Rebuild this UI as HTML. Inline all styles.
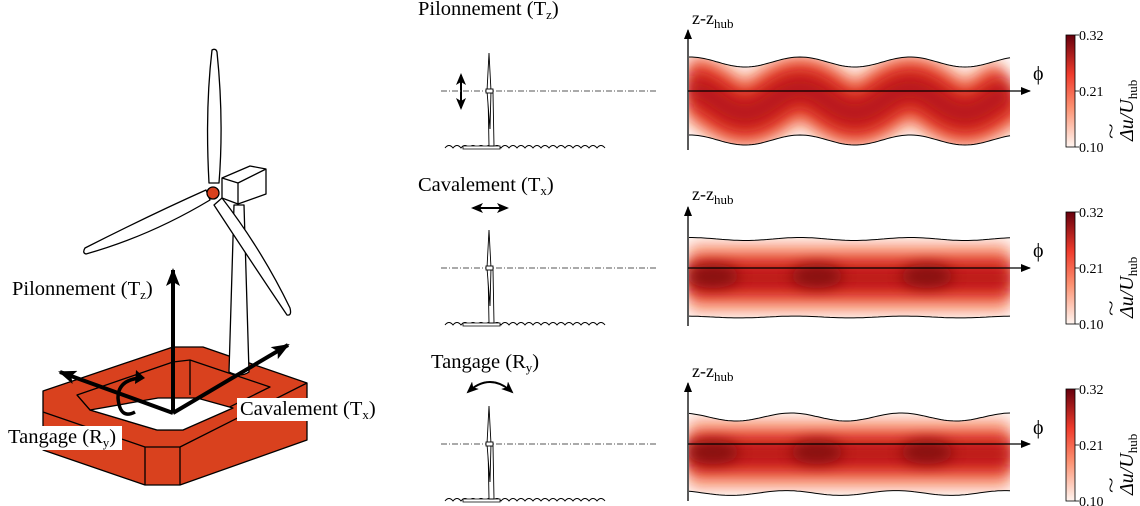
<!DOCTYPE html>
<html><head><meta charset="utf-8"><style>
html,body{margin:0;padding:0;background:#fff;width:1140px;height:506px;overflow:hidden}
svg text{font-family:"Liberation Serif",serif}
</style></head><body>
<svg id="s" width="1140" height="506" viewBox="0 0 1140 506" xmlns="http://www.w3.org/2000/svg">
<defs>
<marker id="ah" markerWidth="10" markerHeight="8" refX="9" refY="4" orient="auto" markerUnits="userSpaceOnUse"><path d="M0,0 L10,4 L0,8 Z" fill="#000"/></marker>
<marker id="ahb" markerWidth="18" markerHeight="14" refX="16" refY="7" orient="auto" markerUnits="userSpaceOnUse"><path d="M0,0 L18,7 L0,14 L4,7 Z" fill="#000"/></marker>
<marker id="ahs" markerWidth="12" markerHeight="10" refX="10" refY="5" orient="auto-start-reverse" markerUnits="userSpaceOnUse"><path d="M0,0 L12,5 L0,10 L3,5 Z" fill="#000"/></marker>
<linearGradient id="cb" x1="0" y1="1" x2="0" y2="0"><stop offset="0" stop-color="#fff5f0"/><stop offset="0.35" stop-color="#fc9272"/><stop offset="0.65" stop-color="#ef3b2c"/><stop offset="1" stop-color="#67000d"/></linearGradient>
<filter id="bl" filterUnits="userSpaceOnUse" x="600" y="0" width="540" height="506"><feGaussianBlur stdDeviation="8"/></filter>
<filter id="bl2" filterUnits="userSpaceOnUse" x="600" y="0" width="540" height="506"><feGaussianBlur stdDeviation="7"/></filter>
<clipPath id="c1"><path id="cp1"/></clipPath>
<clipPath id="c2"><path id="cp2"/></clipPath>
<clipPath id="c3"><path id="cp3"/></clipPath>
</defs>

<!-- Big turbine -->
<g stroke="#000" stroke-width="1.3" stroke-linejoin="round">
  <!-- platform -->
  <path d="M43,391 L173,347 L203,347 L307,383 L307,440 L180,485 L145,485 L43,450 Z" fill="#d9411e"/>
  <path d="M43,412 L145,447 L180,447 L307,383 M145,447 L145,485 M180,447 L180,485" fill="none"/>
  <path d="M77,395 L173,362 L190,360 L270,387 L183,430 L157,430 L90,410 Z" fill="#d9411e"/>
  <path d="M90,410 L157,430 L183,430 L233,408 L197,398 L158,398 Z" fill="#fff"/>
  <path d="M190,360 L190,395 M173,362 L173,398 M77,395 L90,410" fill="none"/>
  <!-- tower -->
  <path d="M234,205 L244,205 L249,372 Q240,378 229,372 Z" fill="#fff"/>
  <path d="M222,178 L250,166 L266,169 L266,194 L238,204 L222,198 Z" fill="#fff"/>
  <path d="M222,178 L238,183 L266,169 M238,183 L238,204" fill="none"/>
  <path d="M209,183 Q205,110 212,50 Q216,48 217,52 Q224,120 219,183 Z" fill="#fff"/>
  <path d="M206,190 Q150,215 85,248 Q82,253 86,254 Q150,236 210,200 Z" fill="#fff"/>
  <path d="M214,205 Q250,260 287,315 Q292,316 290,308 Q262,250 222,198 Z" fill="#fff"/>
  <circle cx="213" cy="193" r="6" fill="#d9411e"/>
</g>
<g stroke="#000" stroke-width="4" fill="none">
  <line x1="173" y1="413" x2="173" y2="270" marker-end="url(#ahb)"/>
  <line x1="173" y1="413" x2="60" y2="372" marker-end="url(#ahb)"/>
  <line x1="173" y1="413" x2="288" y2="345" marker-end="url(#ahb)"/>
  <path d="M140,378 Q118,380 118,398 Q120,420 135,412" stroke-width="3.5"/>
  <path d="M136,370 L145,378 L135,384 Z" fill="#000" stroke="none"/>
</g>
<rect x="237" y="398" width="142" height="23" fill="#fff"/>
<rect x="4" y="426" width="118" height="24" fill="#fff"/>
<text x="12" y="295" font-size="20.5">Pilonnement (T<tspan font-size="13" dy="4">z</tspan><tspan dy="-4">)</tspan></text>
<text x="240" y="415" font-size="20.5">Cavalement (T<tspan font-size="13" dy="4">x</tspan><tspan dy="-4">)</tspan></text>
<text x="8" y="443" font-size="20.5">Tangage (R<tspan font-size="13" dy="4">y</tspan><tspan dy="-4">)</tspan></text>

<text x="418" y="15" font-size="20.5">Pilonnement (T<tspan font-size="13" dy="4">z</tspan><tspan dy="-4">)</tspan></text>
<text x="418" y="191" font-size="20.5">Cavalement (T<tspan font-size="13" dy="4">x</tspan><tspan dy="-4">)</tspan></text>
<text x="431" y="368" font-size="20.5">Tangage (R<tspan font-size="13" dy="4">y</tspan><tspan dy="-4">)</tspan></text>
<g stroke="#000" stroke-width="2" fill="none">
  <line x1="461" y1="90" x2="461" y2="75" marker-end="url(#ahs)"/>
  <line x1="461" y1="90" x2="461" y2="108" marker-end="url(#ahs)"/>
  <line x1="490" y1="208" x2="473" y2="208" marker-end="url(#ahs)"/>
  <line x1="490" y1="208" x2="507" y2="208" marker-end="url(#ahs)"/>
  <path d="M468,392 Q490,372 512,392" marker-start="url(#ahs)" marker-end="url(#ahs)"/>
</g>
<g id="small"></g>
<g id="plots"></g>
<g font-size="18">
<text x="692" y="24">z-z<tspan font-size="13" dy="4">hub</tspan></text>
<text x="692" y="200">z-z<tspan font-size="13" dy="4">hub</tspan></text>
<text x="692" y="377">z-z<tspan font-size="13" dy="4">hub</tspan></text>
<text x="1033" y="80" font-family="DejaVu Sans" font-size="20">ϕ</text>
<text x="1033" y="257" font-family="DejaVu Sans" font-size="20">ϕ</text>
<text x="1033" y="434" font-family="DejaVu Sans" font-size="20">ϕ</text>
</g>
<g id="cbars"></g>
</svg>
<script>
var NS="http://www.w3.org/2000/svg";
function el(p,t,a,txt){var e=document.createElementNS(NS,t);for(var k in a)e.setAttribute(k,a[k]);if(txt)e.textContent=txt;p.appendChild(e);return e;}
var s=document.getElementById('small');
[91,268,444].forEach(function(hy){
  var wy=hy+57;
  var d="M445,"+wy;for(var x=445;x<598;x+=8){d+=" Q"+(x+4)+","+(wy-5)+" "+(x+8)+","+wy;}
  el(s,'path',{d:d,stroke:'#000','stroke-width':1,fill:'none'});
  el(s,'line',{x1:441,y1:hy,x2:658,y2:hy,stroke:'#555','stroke-width':0.9,'stroke-dasharray':'6,2,1,2'});
  el(s,'path',{d:'M463,'+(wy-2)+' L500,'+(wy-2)+' L500,'+(wy+1)+' L463,'+(wy+1)+'Z',fill:'#fff',stroke:'#000','stroke-width':0.8});
  el(s,'path',{d:'M488,'+(hy+2)+' L493,'+(hy+2)+' L494,'+(wy-2)+' L489,'+(wy-2)+'Z',fill:'#fff',stroke:'#000','stroke-width':0.9});
  el(s,'path',{d:'M487,'+hy+' L489,'+(hy-38)+' L491,'+hy+' L490,'+(hy+38)+'Z',fill:'#fff',stroke:'#000','stroke-width':0.9});
  el(s,'rect',{x:486,y:hy-2,width:7,height:4,fill:'#fff',stroke:'#000','stroke-width':0.9});
});
var P=[{c:91,top:-29,bot:49,amp:5,ph:0,inph:true,spots:false,ax0:150,ax1:30,cw:1},
       {c:268,top:-29,bot:49,amp:1.5,ph:0,inph:false,spots:true,ax0:326,ax1:207,cw:0.8},
       {c:444,top:-27,bot:49,amp:4,ph:0.5,inph:false,spots:true,ax0:501,ax1:383,cw:0.8}];
var g=document.getElementById('plots');
P.forEach(function(p,i){
  var x0=689,x1=1010,per=110;
  function off(x,s){return p.amp*Math.cos(2*Math.PI*(x-690)/per + p.ph + s);}
  function yb(x){return p.c+p.bot-(p.inph?off(x,0):off(x,0.3)*0.6);}
  var top="",cen="",bp="";
  for(var x=x0;x<=x1;x+=3){
    var yt=p.c+p.top-off(x,0);
    top+=(x==x0?"M":"L")+x+","+yt.toFixed(1)+" ";
    cen+=(x==x0?"M":"L")+x+","+(p.c+10-(p.inph?2.5*off(x,0):0)).toFixed(1)+" ";
    bp+=(x==x0?"M":"L")+x+","+yb(x).toFixed(1)+" ";
  }
  var band=top;
  for(var x=x1;x>=x0;x-=3){band+="L"+x+","+yb(x).toFixed(1)+" ";}
  band+="Z";
  document.getElementById('cp'+(i+1)).setAttribute('d',band);
  var gg=el(g,'g',{'clip-path':'url(#c'+(i+1)+')'});
  el(gg,'rect',{x:x0,y:p.c-50,width:x1-x0,height:110,fill:'#fff'});
  el(gg,'path',{d:cen,stroke:'#f9a083','stroke-width':70,fill:'none',filter:'url(#bl)'});
  el(gg,'path',{d:cen,stroke:'#e0301e','stroke-width':50*p.cw,fill:'none',filter:'url(#bl)'});
  el(gg,'path',{d:cen,stroke:'#b8141a','stroke-width':26*p.cw,fill:'none',filter:'url(#bl)'});
  if(p.spots){[713,817,927].forEach(function(sx){el(gg,'ellipse',{cx:sx,cy:p.c+8,rx:26,ry:12,fill:'#7a0810',filter:'url(#bl2)',opacity:0.8});});}
  el(g,'path',{d:top,stroke:'#000','stroke-width':1,fill:'none'});
  el(g,'path',{d:bp,stroke:'#000','stroke-width':1,fill:'none'});
  el(g,'line',{x1:688,y1:p.ax0,x2:688,y2:p.ax1,stroke:'#000','stroke-width':1.3,'marker-end':'url(#ah)'});
  el(g,'line',{x1:688,y1:p.c,x2:1030,y2:p.c,stroke:'#000','stroke-width':1.3,'marker-end':'url(#ah)'});
  var cb=document.getElementById('cbars');
  var ty=[35,212,389][i], h=112;
  el(cb,'rect',{x:1066,y:ty,width:9,height:h,fill:'url(#cb)',stroke:'#000','stroke-width':0.8});
  [[0,'0.32'],[h/2,'0.21'],[h,'0.10']].forEach(function(t){
    el(cb,'line',{x1:1075,y1:ty+t[0],x2:1079,y2:ty+t[0],stroke:'#000','stroke-width':0.8});
    el(cb,'text',{x:1079,y:ty+t[0]+5,'font-size':14},t[1]);
  });
  var lab=el(cb,'text',{x:0,y:0,'font-size':20,'font-style':'italic',transform:'translate(1133,'+(ty+h-6)+') rotate(-90)'});
  lab.innerHTML='Δu/U<tspan font-size="13" font-style="normal" dy="4">hub</tspan>';
  el(cb,'text',{x:0,y:0,'font-size':18,transform:'translate(1117,'+(ty+h-8)+') rotate(-90) scale(1.6,1)'},'~');
});
</script>
</body></html>
